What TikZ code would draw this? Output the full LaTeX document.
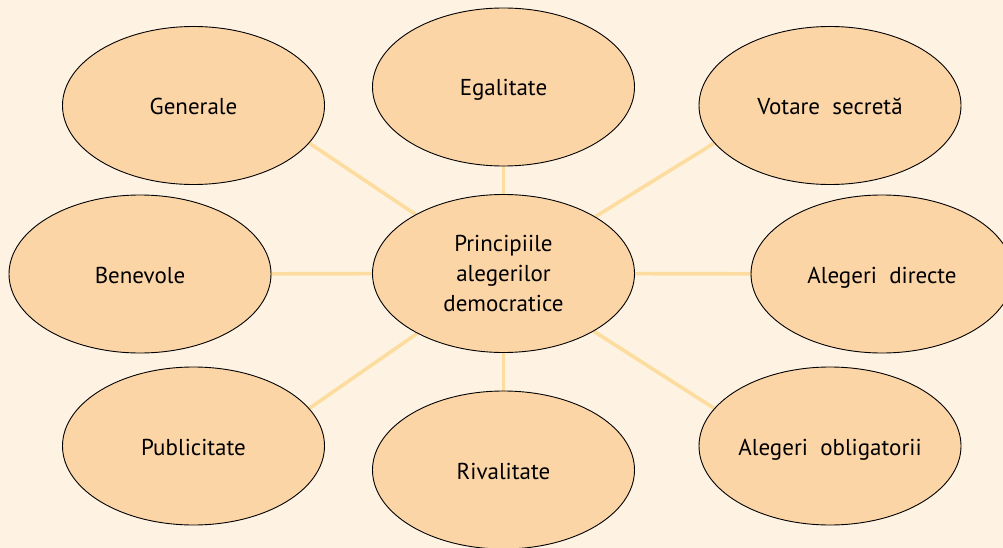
\documentclass[tikz,border=0pt]{standalone}
\usepackage{fontspec}
\setmainfont{PT Sans}
\usetikzlibrary{shapes.geometric,backgrounds}
\definecolor{bgcol}{HTML}{FEF3E2}
\definecolor{fillcol}{HTML}{FCD5A7}
\definecolor{linecol}{HTML}{FDDCA0}
\tikzset{
  bubble/.style={ellipse, draw=black, line width=0.9pt, fill=fillcol,
    minimum width=262pt, minimum height=158pt, inner sep=0pt,
    font=\fontsize{23}{30}\selectfont, text=black, align=center},
  oneline/.style={bubble, text height=21pt, text depth=3pt},
  link/.style={draw=linecol, line width=3.6pt}
}
\begin{document}
\begin{tikzpicture}[x=1pt,y=-1pt]
\clip (0,0) rectangle (1003,548);
\useasboundingbox (0,0) rectangle (1003,548);
\node[bubble] (c) at (503.5,273.5) {Principiile\\alegerilor\\democratice};
\node[oneline] (gen) at (193.5,105.5) {Generale};
\node[oneline] (ega) at (503.5,87) {Egalitate};
\node[oneline] (vot) at (830,105.5) {Votare\ \ secretă};
\node[oneline] (ben) at (140,274) {Benevole};
\node[oneline] (dir) at (882,274) {Alegeri\ \ directe};
\node[oneline] (pub) at (193.5,446) {Publicitate};
\node[oneline] (riv) at (503.5,470) {Rivalitate};
\node[oneline] (obl) at (830,446) {Alegeri\ \ obligatorii};
\begin{scope}[on background layer]
\fill[bgcol] (0,0) rectangle (1003,548);
\draw[link] (c.center) -- (gen.-18);
\draw[link] (c.center) -- (vot.198);
\draw[link] (c.center) -- (pub.18);
\draw[link] (c.center) -- (obl.162);
\draw[link] (c.center) -- (ega.center);
\draw[link] (c.center) -- (riv.center);
\draw[link] (c.center) -- (ben.center);
\draw[link] (c.center) -- (dir.center);
\end{scope}
\end{tikzpicture}
\end{document}
